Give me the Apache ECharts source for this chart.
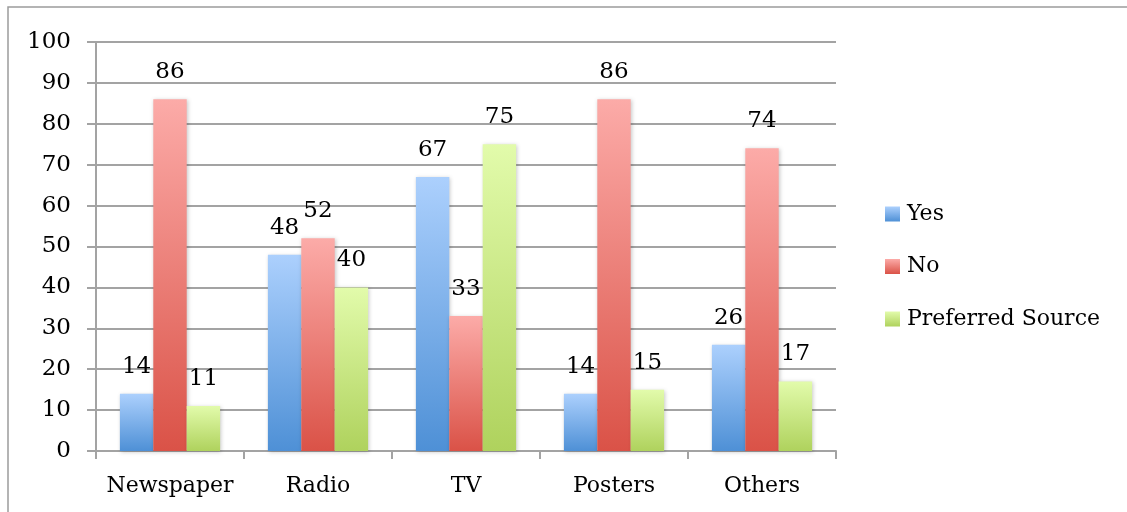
<!DOCTYPE html>
<html>
<head>
<meta charset="utf-8">
<script src="https://cdn.jsdelivr.net/npm/echarts@6/dist/echarts.min.js"></script>
<style>
  html, body { margin: 0; padding: 0; background: #ffffff; }
  #chart { width: 1127px; height: 512px; }
</style>
</head>
<body>
<div id="chart"></div>
<script>
// Survey: awareness sources and preferred source (%)
const categories = ['Newspaper', 'Radio', 'TV', 'Posters', 'Others'];
const yesValues = [14, 48, 67, 14, 26];
const noValues = [86, 52, 33, 86, 74];
const preferredValues = [11, 40, 75, 15, 17];
const seriesNames = ['Yes', 'No', 'Preferred Source'];
const yTicks = { min: 0, max: 100, interval: 10 };

const FONT = '"DejaVu Serif", serif';
const AXIS_GREY = '#a3a3a3';

function vGrad(top, bottom) {
  return new echarts.graphic.LinearGradient(0, 0, 0, 1, [
    { offset: 0, color: top },
    { offset: 1, color: bottom }
  ]);
}

const fills = [
  vGrad('#acd0fd', '#4e90d6'),
  vGrad('#fcaba8', '#da5247'),
  vGrad('#e2fbab', '#afd25d')
];

function barSeries(name, values, fill) {
  return {
    name: name,
    type: 'bar',
    data: values,
    barWidth: 33.4,
    barGap: '0%',
    itemStyle: {
      color: fill,
      shadowBlur: 4,
      shadowColor: 'rgba(0,0,0,0.22)',
      shadowOffsetX: 1,
      shadowOffsetY: 1
    },
    label: {
      show: true,
      position: 'top',
      distance: 16,
      color: '#000000',
      fontFamily: FONT,
      fontSize: 23,
      lineHeight: 22
    }
  };
}

const chart = echarts.init(document.getElementById('chart'), null, { renderer: 'canvas' });

chart.setOption({
  animation: false,
  backgroundColor: '#ffffff',
  textStyle: { fontFamily: FONT },
  graphic: [{
    type: 'rect',
    shape: { x: 8, y: 7, width: 1200, height: 600 },
    style: { fill: 'none', stroke: '#9c9c9c', lineWidth: 1.5 },
    silent: true
  }],
  grid: { left: 96, top: 42, width: 740, height: 409, containLabel: false },
  legend: {
    orient: 'vertical',
    left: 880,
    top: 198,
    itemWidth: 15,
    itemHeight: 15,
    itemGap: 30.5,
    icon: 'rect',
    data: seriesNames,
    textStyle: { fontFamily: FONT, fontSize: 22, lineHeight: 22, color: '#000000', padding: [0, 0, 0, 2] }
  },
  xAxis: {
    type: 'category',
    data: categories,
    axisLine: { show: true, lineStyle: { color: AXIS_GREY, width: 2 } },
    axisTick: { show: true, interval: 0, length: 8, lineStyle: { color: AXIS_GREY, width: 2 } },
    axisLabel: { interval: 0, margin: 24, fontFamily: FONT, fontSize: 22, color: '#000000' },
    splitLine: { show: false }
  },
  yAxis: {
    type: 'value',
    min: yTicks.min,
    max: yTicks.max,
    interval: yTicks.interval,
    axisLine: { show: true, lineStyle: { color: AXIS_GREY, width: 2 } },
    axisTick: { show: true, length: 9, lineStyle: { color: AXIS_GREY, width: 2 } },
    axisLabel: { margin: 25, fontFamily: FONT, fontSize: 23, color: '#000000' },
    splitLine: { show: true, lineStyle: { color: AXIS_GREY, width: 2 } }
  },
  series: [
    barSeries(seriesNames[0], yesValues, fills[0]),
    barSeries(seriesNames[1], noValues, fills[1]),
    barSeries(seriesNames[2], preferredValues, fills[2])
  ]
});
</script>
</body>
</html>
